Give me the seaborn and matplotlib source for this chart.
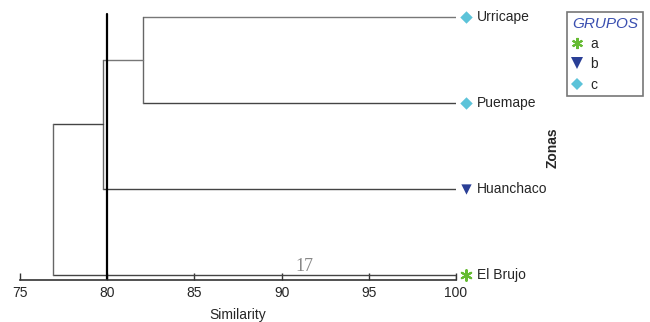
import matplotlib
matplotlib.use("Agg")
import matplotlib.pyplot as plt
import seaborn as sns
import pandas as pd
from matplotlib.lines import Line2D

# leaves (bottom to top) and their group
zonas = ['El Brujo', 'Huanchaco', 'Puemape', 'Urricape']
grupos = ['a', 'b', 'c', 'c']
# merge similarities: Urricape+Puemape, +Huanchaco, +El Brujo
h_up = 82.05
h_uph = 79.75
h_all = 76.9
corte = 80
xticks = [75, 80, 85, 90, 95, 100]

colores = {'a': '#66bb33', 'b': '#2a3f96', 'c': '#5cc3d9'}
marcas = {'a': (6, 2, 0), 'b': 'v', 'c': 'D'}

sns.set_style('white')
plt.rcParams['font.family'] = ['Liberation Sans', 'DejaVu Sans']

fig = plt.figure(figsize=(6.5, 3.22), dpi=100)
ax = fig.add_axes([20/650, 42/322, 436/650, 270/322])

y = list(range(len(zonas)))
lw = 1.0
c1 = '#444444'
# leaf lines
ax.plot([h_up, 100], [y[3], y[3]], color='#777777', lw=lw)
ax.plot([h_up, 100], [y[2], y[2]], color=c1, lw=lw)
ax.plot([h_uph, 100], [y[1], y[1]], color=c1, lw=lw)
ax.plot([h_all, 100], [y[0], y[0]], color=c1, lw=lw)
# clusters
n1 = (y[2] + y[3]) / 2
ax.plot([h_up, h_up], [y[2], y[3]], color='#666666', lw=lw)
ax.plot([h_uph, h_up], [n1, n1], color='#777777', lw=lw)
n2 = (y[1] + n1) / 2
ax.plot([h_uph, h_uph], [y[1], n1], color='#666666', lw=lw)
ax.plot([h_all, h_uph], [n2, n2], color=c1, lw=lw)
ax.plot([h_all, h_all], [y[0], n2], color='#666666', lw=lw)
ax.plot([100, 100], [-0.06, 0], color=c1, lw=lw)

# cut line
ax.plot([corte, corte], [-0.06, 3.03], color='black', lw=1.6)

df = pd.DataFrame({'zona': zonas, 'grupo': grupos, 'y': y})
df['x'] = 100.55
for g, sub in df.groupby('grupo'):
    if g == 'a':
        sns.scatterplot(data=sub, x='x', y='y', marker=marcas[g], color=colores[g],
                        s=60, linewidth=1.5, ax=ax, clip_on=False, legend=False)
    else:
        sns.scatterplot(data=sub, x='x', y='y', marker=marcas[g], color=colores[g],
                        s=40 if g == 'c' else 55, linewidth=0, ax=ax, clip_on=False,
                        legend=False)
for _, r in df.iterrows():
    ax.text(101.2, r['y'], r['zona'], fontsize=10, va='center', ha='left')

ax.text(91.3, 0.0, '17', fontsize=13, color='#888888', ha='center', va='bottom',
        family=['Liberation Serif', 'DejaVu Serif'])

ax.set_xlim(75, 100)
ax.set_ylim(-0.06, 3.08)
ax.set_xticks(xticks)
ax.set_yticks([])
ax.tick_params(axis='x', bottom=True, direction='in', length=5, width=1, labelsize=10,
               pad=4, color='#333333')
for s in ['top', 'left', 'right']:
    ax.spines[s].set_visible(False)
ax.spines['bottom'].set_color('#333333')
ax.spines['bottom'].set_linewidth(1.2)
ax.set_xlabel('Similarity', fontsize=10, labelpad=6)
ax.set_ylabel('')

fig.text(553/650, 1 - 148/322, 'Zonas', rotation=90, fontsize=10, fontweight='bold',
         ha='center', va='center')

handles = [Line2D([], [], marker=marcas['a'], color=colores['a'], linestyle='',
                  markersize=8, markeredgewidth=1.5),
           Line2D([], [], marker='v', color=colores['b'], linestyle='', markersize=8,
                  markeredgewidth=0),
           Line2D([], [], marker='D', color=colores['c'], linestyle='', markersize=6.5,
                  markeredgewidth=0)]
leg = fig.legend(handles, ['a', 'b', 'c'], title='GRUPOS', loc='upper left',
                 bbox_to_anchor=(567/650, 1 - 12/322), frameon=True, fancybox=False,
                 fontsize=10, handlelength=0.8, handletextpad=0.5, borderaxespad=0,
                 labelspacing=0.45, borderpad=0.35, alignment='left')
leg.get_frame().set_edgecolor('#555555')
leg.get_frame().set_linewidth(1.2)
leg.get_title().set_color('#3a4fb0')
leg.get_title().set_fontstyle('italic')
leg.get_title().set_fontsize(11)

fig.savefig('out.png', dpi=100)
